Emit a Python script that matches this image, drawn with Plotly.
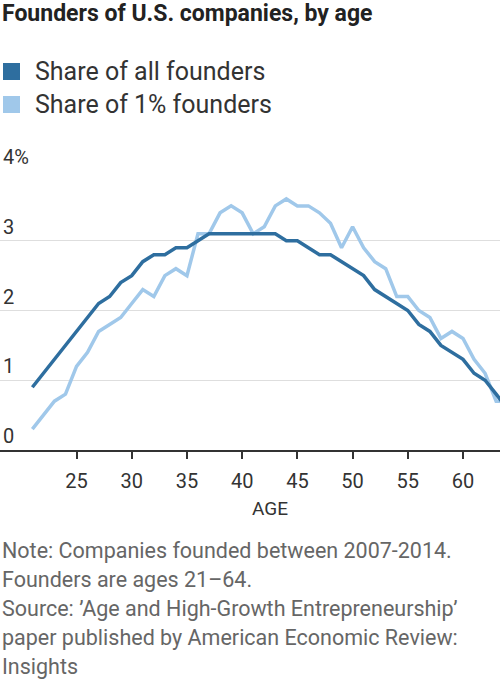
import plotly.graph_objects as go

# ---- data ----
ages = list(range(21, 65))
share_all = [0.9, 1.1, 1.3, 1.5, 1.7, 1.9, 2.1, 2.2, 2.4, 2.5,
             2.7, 2.8, 2.8, 2.9, 2.9, 3.0, 3.1, 3.1, 3.1, 3.1,
             3.1, 3.1, 3.1, 3.0, 3.0, 2.9, 2.8, 2.8, 2.7, 2.6,
             2.5, 2.3, 2.2, 2.1, 2.0, 1.8, 1.7, 1.5, 1.4, 1.3,
             1.1, 1.0, 0.8, 0.6]
share_top1 = [0.3, 0.5, 0.7, 0.8, 1.2, 1.4, 1.7, 1.8, 1.9, 2.1,
              2.3, 2.2, 2.5, 2.6, 2.5, 3.1, 3.1, 3.4, 3.5, 3.4,
              3.1, 3.2, 3.5, 3.6, 3.5, 3.5, 3.4, 3.25, 2.9, 3.2,
              2.9, 2.7, 2.6, 2.2, 2.2, 2.0, 1.9, 1.6, 1.7, 1.6,
              1.3, 1.1, 0.7, 0.7]
x_tickvals = [25, 30, 35, 40, 45, 50, 55, 60]
y_tickvals = [0, 1, 2, 3, 4]
y_ticktext = ["0", "1", "2", "3", "4%"]
series_names = ["Share of all founders", "Share of 1% founders"]
title = "Founders of U.S. companies, by age"
notes = [
    "Note: Companies founded between 2007-2014.",
    "Founders are ages 21\u201364.",
    "Source: \u2019Age and High-Growth Entrepreneurship\u2019",
    "paper published by American Economic Review:",
    "Insights",
]

DARK = "#2e6e9f"
LIGHT = "#a0c8ea"
FONT = "Roboto, Lato, 'Liberation Sans', sans-serif"

W, H = 500, 680
TOP, BOT = 171, 450  # plot area pixel bounds


def py(pix):
    """pixel row -> paper y"""
    return (BOT - pix) / (BOT - TOP)


def px(pix):
    return pix / W


fig = go.Figure()
fig.add_trace(go.Scatter(x=ages, y=share_top1, mode="lines",
                         line=dict(color=LIGHT, width=3.5), showlegend=False,
                         name=series_names[1]))
fig.add_trace(go.Scatter(x=ages, y=share_all, mode="lines",
                         line=dict(color=DARK, width=3.5), showlegend=False,
                         name=series_names[0]))

annotations = []
annotations.append(dict(text="<b>" + title + "</b>", x=0, y=py(13), xref="paper", yref="paper",
                        xanchor="left", yanchor="middle", showarrow=False,
                        font=dict(family=FONT, size=23, color="#222")))
shapes = []
for i, (name, col) in enumerate(zip(series_names, [DARK, LIGHT])):
    cy = 71.5 + i * 33
    shapes.append(dict(type="rect", xref="paper", yref="paper",
                       x0=px(3), x1=px(20), y0=py(cy - 8.5), y1=py(cy + 8.5),
                       fillcolor=col, line=dict(width=0)))
    annotations.append(dict(text=name, x=px(33), y=py(cy), xref="paper", yref="paper",
                            xanchor="left", yanchor="middle", showarrow=False,
                            font=dict(family=FONT, size=25, color="#333")))
annotations.append(dict(text="AGE", x=px(270), y=py(508), xref="paper", yref="paper",
                        xanchor="center", yanchor="middle", showarrow=False,
                        font=dict(family=FONT, size=19, color="#333")))
for i, line in enumerate(notes):
    annotations.append(dict(text=line, x=0, y=py(550 + i * 29), xref="paper", yref="paper",
                            xanchor="left", yanchor="middle", showarrow=False,
                            font=dict(family=FONT, size=21.5, color="#666")))

fig.update_layout(
    width=W, height=H,
    margin=dict(l=0, r=0, t=TOP, b=H - BOT, pad=0),
    paper_bgcolor="white", plot_bgcolor="white",
    annotations=annotations, shapes=shapes,
    showlegend=False,
    xaxis=dict(range=[18.07, 63.35], tickvals=x_tickvals, ticks="outside",
               ticklen=7, tickwidth=1.5, tickcolor="#333", showgrid=False,
               showline=True, linecolor="#333", linewidth=2, zeroline=False,
               tickfont=dict(family=FONT, size=20, color="#333"),
               ticklabelstandoff=5),
    yaxis=dict(range=[0, 4], tickvals=y_tickvals, ticktext=y_ticktext,
               ticklabelposition="inside top", ticklabeloverflow="allow",
               showgrid=True, gridcolor="#dedede", gridwidth=1, zeroline=False,
               showline=False, ticks="",
               tickfont=dict(family=FONT, size=20, color="#333")),
)

fig.write_html("out.html", config={"displayModeBar": False},
               post_script="document.body.style.margin='0';")
